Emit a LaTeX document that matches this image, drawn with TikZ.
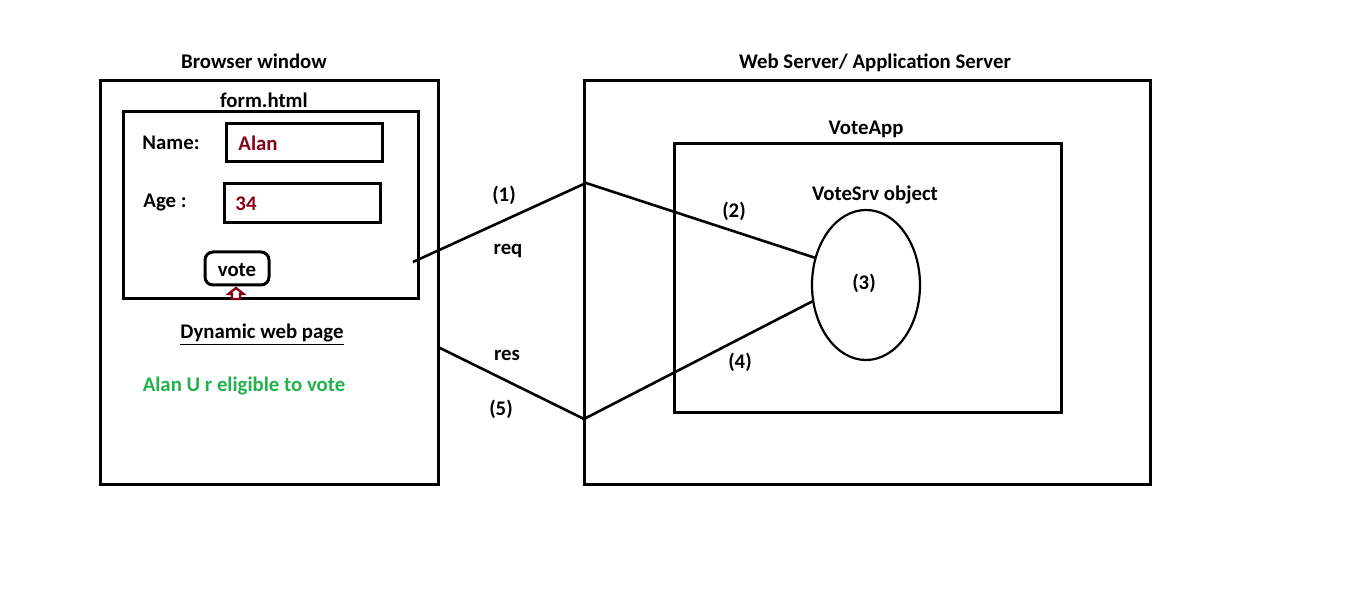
\documentclass[tikz,border=0pt]{standalone}
\usepackage{fontspec}
\setmainfont{Carlito}
\usetikzlibrary{shapes.geometric}
\definecolor{dred}{HTML}{880015}
\definecolor{vgreen}{HTML}{22B14C}
\tikzset{
  box/.style={draw=black,line width=1.5pt},
  conn/.style={draw=black,line width=1.3pt},
  lbl/.style={font=\bfseries\fontsize{10.4}{12}\selectfont,inner sep=0pt},
}
\begin{document}
\begin{tikzpicture}[x=0.5pt,y=-0.5pt]
\useasboundingbox[fill=white] (0,0) rectangle (1360,613);
% browser
\draw[box] (100,81) rectangle (438,485);
\draw[box] (123,112) rectangle (418,299);
\draw[box] (226,124) rectangle (382,162);
\draw[box] (224,184) rectangle (380,223);
\draw[box,rounded corners=4pt] (205,252) rectangle (269,285);
\node[lbl] (bw) at (254,61) {Browser window};
\node[lbl] (fh) at (264,100) {form.html};
\node[lbl] (nm) at (171,143) {Name:};
\node[lbl,text=dred] (al) at (258,143) {Alan};
\node[lbl] (ag) at (165,203) {Age :};
\node[lbl,text=dred] (a34) at (246,204) {34};
\node[lbl] (vt) at (237,270) {vote};
\draw[draw=dred,line width=1.2pt,fill=white] (236,288) -- (243.5,294) -- (240,294) -- (240,299) -- (232,299) -- (232,294) -- (228.5,294) -- cycle;
\node[lbl] (dw) at (262,335) {\underline{Dynamic web page}};
\node[lbl,text=vgreen] (el) at (244,386) {Alan U r eligible to vote};
% server
\draw[box] (584,81) rectangle (1150,485);
\draw[box] (674,144) rectangle (1061,413);
\node[lbl] (ws) at (875,63) {Web Server/ Application Server};
\node[lbl] (va) at (866,129) {VoteApp};
\node[lbl] (vs) at (875,195) {VoteSrv object};
\node[draw=black,line width=1.1pt,ellipse,minimum width=54pt,minimum height=75pt,inner sep=0pt] (obj) at (866,285) {};
\node[lbl] (n3) at (864,283) {(3)};
% connectors
\coordinate (rq0) at (413,262);
\coordinate (rq1) at (586,183);
\coordinate (rs0) at (438,347);
\coordinate (rs1) at (584,419);
\draw[conn] (rq0) -- (rq1) -- (obj.152);
\draw[conn] (rs0) -- (rs1) -- (obj.197);
\node[lbl] (n1) at (504,195) {(1)};
\node[lbl] (rq) at (508,251) {req};
\node[lbl] (n2) at (734,211) {(2)};
\node[lbl] (n4) at (740,362) {(4)};
\node[lbl] (rs) at (507,355) {res};
\node[lbl] (n5) at (501,409) {(5)};
\end{tikzpicture}
\end{document}
